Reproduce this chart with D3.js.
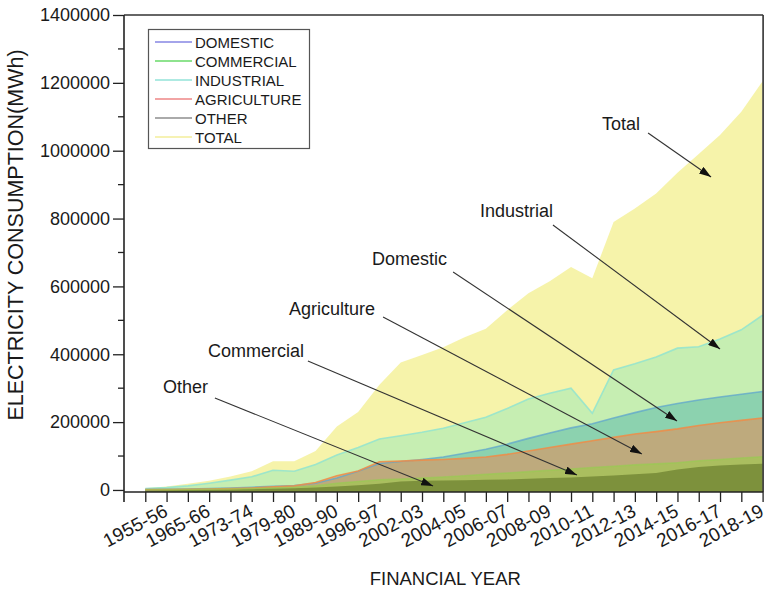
<!DOCTYPE html>
<html><head><meta charset="utf-8">
<script src="https://cdn.jsdelivr.net/npm/d3@7"></script>
<style>body{margin:0;background:#fff} text{font-family:Arial,"Liberation Sans",sans-serif}</style>
</head><body><svg id="c" width="766" height="594"></svg>
<script>
// ---------------- DATA ----------------
const categories = ["1950-51","1955-56","1960-61","1965-66","1970-71","1973-74","1978-79","1979-80","1984-85","1989-90",
  "1991-92","1996-97","2001-02","2002-03","2003-04","2004-05","2005-06","2006-07","2007-08","2008-09",
  "2009-10","2010-11","2011-12","2012-13","2013-14","2014-15","2015-16","2016-17","2017-18","2018-19"];
const tickLabels = ["1955-56","1965-66","1973-74","1979-80","1989-90","1996-97","2002-03","2004-05","2006-07",
  "2008-09","2010-11","2012-13","2014-15","2016-17","2018-19"];
const total = [5000,10000,18000,27000,40000,55000,85000,85000,115000,187000,230000,310000,376000,398000,421000,
  450000,475000,530000,580000,615000,657000,624000,790000,830000,874000,935000,990000,1046000,1115000,1205000];
const industrial = [4000,7000,12000,20000,29000,39000,58000,55000,75000,103000,125000,150000,160000,170000,182000,
  198000,214000,240000,268000,285000,300000,226000,354000,372000,392000,418000,422000,445000,472000,515000];
const domestic = [1000,2000,3000,4000,6000,8000,11000,13000,20000,35000,55000,78000,84000,90000,97000,
  108000,120000,135000,152000,168000,183000,195000,212000,228000,243000,255000,265000,274000,282000,290000];
const agriculture = [1000,1500,2000,3000,4000,6000,9000,12000,22000,42000,56000,83000,85000,88000,90000,
  93000,97000,105000,115000,125000,135000,145000,155000,165000,172000,180000,190000,198000,205000,212000];
const commercial = [500,1000,1500,2000,3000,4000,6000,8000,12000,20000,25000,30000,32000,35000,38000,
  42000,46000,50000,54000,58000,62000,66000,70000,74000,77000,80000,86000,90000,94000,98000];
const other = [300,500,1000,1500,2000,3000,4000,5000,7000,10000,14000,18000,25000,27000,28000,
  29000,30000,31000,33000,35000,37000,40000,43000,46000,50000,60000,68000,72000,75000,77000];
const yTicks = [0,200000,400000,600000,800000,1000000,1200000,1400000];
const seriesNames = ["DOMESTIC","COMMERCIAL","INDUSTRIAL","AGRICULTURE","OTHER","TOTAL"];
const annotationLabels = ["Total","Industrial","Domestic","Agriculture","Commercial","Other"];

// ---------------- LAYOUT / STYLE ----------------
const svg = d3.select("#c");
const L = 124, R = 762.6, T = 15, B = 492;
const x = d3.scaleLinear().domain([-1, categories.length - 1]).range([L, R]);
const y = d3.scaleLinear().domain([-6000, 1400000]).range([B, T]);

const fills = {
  TOTAL: "rgb(237,231,85)", INDUSTRIAL: "rgb(150,233,186)", DOMESTIC: "rgb(82,182,172)",
  AGRICULTURE: "rgb(240,130,75)", COMMERCIAL: "rgb(150,210,65)", OTHER: "rgb(80,100,25)"
};
const strokes = {
  TOTAL: "none", INDUSTRIAL: "rgba(150,228,205,0.9)", DOMESTIC: "rgba(95,165,205,0.75)",
  AGRICULTURE: "rgba(240,140,70,0.85)", COMMERCIAL: "rgba(150,205,80,0.6)", OTHER: "none"
};
const legendColors = {
  DOMESTIC: "#a4a4ea", COMMERCIAL: "#8ee38e", INDUSTRIAL: "#aeeae2",
  AGRICULTURE: "#f2a4a4", OTHER: "#aaaaaa", TOTAL: "#f6f2b4"
};
const dataBy = {TOTAL: total, INDUSTRIAL: industrial, DOMESTIC: domestic,
  AGRICULTURE: agriculture, COMMERCIAL: commercial, OTHER: other};
const drawOrder = ["TOTAL","INDUSTRIAL","DOMESTIC","AGRICULTURE","COMMERCIAL","OTHER"];

const area = d3.area().x((d, i) => x(i)).y0(y(y.domain()[0])).y1(d => y(d));
const topLine = d3.line().x((d, i) => x(i)).y(d => y(d));
const gA = svg.append("g");
drawOrder.forEach(k => {
  gA.append("path").attr("d", area(dataBy[k])).attr("fill", fills[k]).attr("fill-opacity", 0.5);
});
drawOrder.forEach(k => {
  if (strokes[k] !== "none")
    gA.append("path").attr("d", topLine(dataBy[k])).attr("fill", "none")
      .attr("stroke", strokes[k]).attr("stroke-width", 1.6);
});

// frame
svg.append("line").attr("x1", L).attr("x2", R + 0.5).attr("y1", T).attr("y2", T)
  .attr("stroke", "#333").attr("stroke-width", 1.6);
svg.append("line").attr("x1", R + 0.5).attr("x2", R + 0.5).attr("y1", T).attr("y2", B)
  .attr("stroke", "#333").attr("stroke-width", 1.6);

// y axis
const gy = svg.append("g").attr("transform", `translate(${L},0)`);
gy.call(d3.axisLeft(y).tickValues(yTicks).tickSize(11).tickPadding(3).tickFormat(d3.format("d")));
gy.selectAll(".tick text").attr("font-size", 18).attr("font-family", "Arial, Liberation Sans, sans-serif").attr("fill", "#1a1a1a");
gy.selectAll(".tick line").attr("stroke", "#222").attr("stroke-width", 1.3);
gy.select(".domain").remove();
const minor = d3.range(100000, 1400000, 200000);
gy.selectAll(".minor").data(minor).enter().append("line")
  .attr("x1", -6).attr("x2", 0).attr("y1", d => y(d)).attr("y2", d => y(d))
  .attr("stroke", "#222").attr("stroke-width", 1.3);
svg.append("line").attr("x1", L).attr("x2", L).attr("y1", T).attr("y2", B + 10)
  .attr("stroke", "#222").attr("stroke-width", 1.6);

// x axis
const gx = svg.append("g").attr("transform", `translate(0,${B})`);
gx.call(d3.axisBottom(x).tickValues(d3.range(categories.length)).tickSize(10)
  .tickFormat(i => tickLabels.includes(categories[i]) ? categories[i] : ""));
gx.select(".domain").remove();
gx.selectAll(".tick line").attr("stroke", "#222").attr("stroke-width", 1.3);
gx.selectAll(".tick text").attr("font-size", 19).attr("fill", "#1a1a1a")
  .attr("font-family", "Arial, Liberation Sans, sans-serif")
  .attr("text-anchor", "end").attr("dy", null).attr("y", null)
  .attr("transform", "translate(2,23) rotate(-28)");
svg.append("line").attr("x1", L).attr("x2", R + 0.5).attr("y1", B).attr("y2", B)
  .attr("stroke", "#222").attr("stroke-width", 1.6);

// axis titles
svg.append("text").attr("x", (L + R) / 2 + 2).attr("y", 585).attr("text-anchor", "middle")
  .attr("font-size", 18.5).attr("fill", "#1a1a1a").text("FINANCIAL YEAR");
svg.append("text").attr("transform", `translate(23,235) rotate(-90)`)
  .attr("text-anchor", "middle").attr("font-size", 21.5).attr("fill", "#1a1a1a")
  .text("ELECTRICITY CONSUMPTION(MWh)");

// legend
const lg = svg.append("g");
lg.append("rect").attr("x", 148.5).attr("y", 29.5).attr("width", 161).attr("height", 119)
  .attr("fill", "#fff").attr("stroke", "#555").attr("stroke-width", 1.2);
seriesNames.forEach((n, i) => {
  const yy = 42 + i * 19;
  lg.append("line").attr("x1", 155).attr("x2", 192).attr("y1", yy).attr("y2", yy)
    .attr("stroke", legendColors[n]).attr("stroke-width", 2);
  lg.append("text").attr("x", 195).attr("y", yy + 5.5).attr("font-size", 15).attr("fill", "#1a1a1a").text(n);
});

// annotations (in data coordinates: [categoryIndex, value])
const annText = [[21.45,1061000],[15.72,804600],[10.65,663100],[6.75,515700],[2.95,391900],[0.83,285800]];
const annFrom = [[23.62,1052000],[19.15,781000],[14.46,642500],[11.17,509800],[7.64,380100],[3.27,271100]];
const annTo = [[26.58,922500],[27.0,415500],[24.98,203300],[23.33,106000],[20.28,44100],[13.52,11700]];
svg.append("defs").append("marker").attr("id", "ah").attr("viewBox", "0 0 12 8")
  .attr("refX", 12).attr("refY", 4).attr("markerWidth", 12).attr("markerHeight", 8)
  .attr("markerUnits", "userSpaceOnUse").attr("orient", "auto")
  .append("path").attr("d", "M0,0 L12,4 L0,8 Z").attr("fill", "#111");
annotationLabels.forEach((t, i) => {
  svg.append("text").attr("x", x(annText[i][0])).attr("y", y(annText[i][1]))
    .attr("font-size", 18).attr("fill", "#1a1a1a").text(t);
  svg.append("line").attr("x1", x(annFrom[i][0])).attr("y1", y(annFrom[i][1]))
    .attr("x2", x(annTo[i][0])).attr("y2", y(annTo[i][1]))
    .attr("stroke", "#333").attr("stroke-width", 1.1).attr("marker-end", "url(#ah)");
});
</script></body></html>
